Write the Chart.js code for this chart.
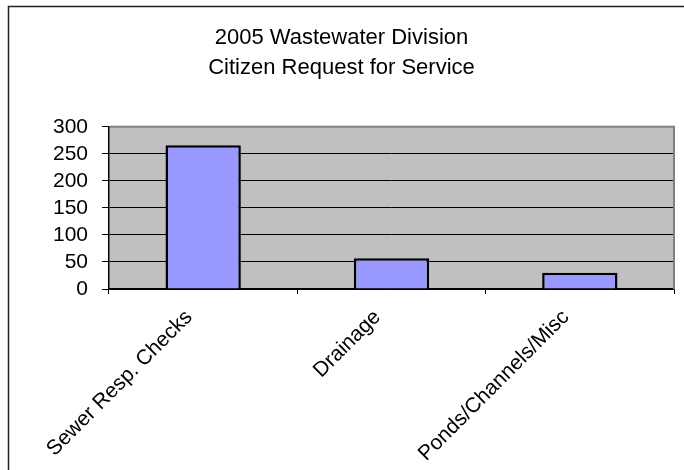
<!DOCTYPE html>
<html>
<head>
<meta charset="utf-8">
<script src="https://cdn.jsdelivr.net/npm/chart.js@4.4.1/dist/chart.umd.min.js"></script>
<style>
  html, body { margin: 0; background: #fff; }
</style>
</head>
<body>
<canvas id="myChart" width="684" height="470"></canvas>
<script>
const titleLines = ['2005 Wastewater Division', 'Citizen Request for Service'];
const categories = ['Sewer Resp. Checks', 'Drainage', 'Ponds/Channels/Misc'];
const requests = [266, 57, 30];
const yTicks = [0, 50, 100, 150, 200, 250, 300];

const FONT = '"Liberation Sans", Arial, sans-serif';

// grey plot background + outer frame, under everything
const plotFrame = {
    id: 'plotFrame',
    beforeDraw(chart) {
        const { ctx, chartArea: a } = chart;
        ctx.save();
        ctx.strokeStyle = '#222';
        ctx.lineWidth = 1.5;
        ctx.strokeRect(8.5, 6.5, chart.width + 10, chart.height + 10);
        ctx.fillStyle = '#c0c0c0';
        ctx.fillRect(a.left, a.top, a.right - a.left, a.bottom - a.top);
        ctx.restore();
    },
    // top/right edge in grey, drawn over the gridlines but under the bars
    beforeDatasetsDraw(chart) {
        const { ctx, chartArea: a } = chart;
        ctx.save();
        ctx.strokeStyle = '#808080';
        ctx.lineWidth = 2;
        ctx.beginPath();
        ctx.moveTo(a.left + 1, a.top);
        ctx.lineTo(a.right, a.top);
        ctx.lineTo(a.right, a.bottom);
        ctx.stroke();
        ctx.restore();
    }
};

const data = {
    labels: categories,
    datasets: [
        {
            data: requests,
            backgroundColor: '#9999ff',
            borderColor: '#000',
            borderWidth: 2.5,
            barPercentage: 0.4,
            categoryPercentage: 1
        },
    ],
};

const config = {
    type: 'bar',
    data: data,
    plugins: [plotFrame],
    options: {
        responsive: false,
        animation: false,
        layout: { padding: { left: 9, right: 10, top: 0, bottom: 0 } },
        plugins: {
            legend: { display: false },
            tooltip: { enabled: false },
            title: {
                display: true,
                text: titleLines,
                color: '#000',
                font: { family: FONT, size: 22, weight: 'normal', lineHeight: 1.36 },
                padding: { top: 23, bottom: 44 }
            }
        },
        scales: {
            x: {
                offset: true,
                grid: { offset: true, drawOnChartArea: false, tickLength: 5, color: '#000' },
                border: { color: '#000', width: 1.5 },
                ticks: {
                    color: '#000',
                    minRotation: 45,
                    maxRotation: 45,
                    autoSkip: false,
                    labelOffset: -14,
                    padding: 11,
                    font: { family: FONT, size: 21 }
                },
                afterFit(scale) { scale.height = 181; }
            },
            y: {
                min: 0,
                max: 300,
                afterBuildTicks(scale) { scale.ticks = yTicks.map(v => ({ value: v })); },
                afterFit(scale) { scale.width = 100; },
                ticks: { color: '#000', padding: 14, autoSkip: false, font: { family: FONT, size: 21 } },
                grid: { color: '#000', tickLength: 7, lineWidth: 1 },
                border: { color: '#000', width: 1.5 }
            }
        }
    }
};

const myChart = new Chart(document.querySelector('#myChart').getContext('2d'), config);
</script>
</body>
</html>
